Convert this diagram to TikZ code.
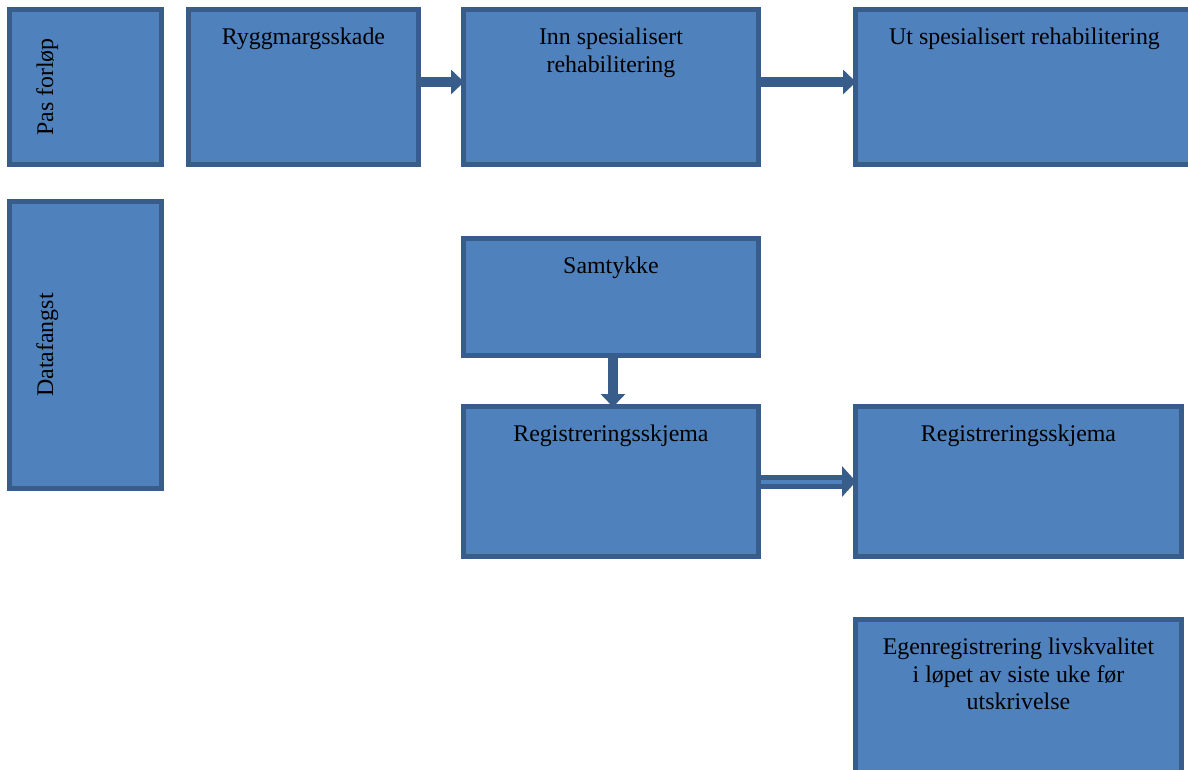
\documentclass[tikz,border=0pt]{standalone}
\usepackage{fontspec}
\setmainfont{Liberation Serif}
\usetikzlibrary{arrows.meta}

\definecolor{boxfill}{HTML}{4F81BD}
\definecolor{boxline}{HTML}{385D8A}

\begin{document}
\begin{tikzpicture}[x=0.02cm,y=-0.02cm,
    box/.style={draw=boxline,fill=boxfill,line width=0.1cm,inner sep=0pt},
    boxtext/.style={anchor=north,inner sep=0pt,align=center,
        font=\fontsize{13.6}{15.5}\selectfont},
    sidetext/.style={anchor=base,inner sep=0pt,rotate=90,
        font=\fontsize{13.6}{15.5}\selectfont},
    flow/.style={draw=boxline,line width=0.2cm,shorten >=-0.06cm,
        -{Triangle[length=0.26cm,width=0.48cm]}}
]
\useasboundingbox (0,0) rectangle (1188,769);
\clip (0,0) rectangle (1188,769);
% Boxes
\node[box,minimum width=3.04cm,minimum height=3.10cm] (pas) at (85.5,87){};
\node[box,minimum width=4.60cm,minimum height=3.10cm] (rygg) at (303.5,87){};
\node[box,minimum width=5.90cm,minimum height=3.10cm] (inn) at (611,87){};
\node[box,minimum width=6.76cm,minimum height=3.10cm] (ut) at (1024.5,87){};
\node[box,minimum width=3.04cm,minimum height=5.74cm] (data) at (85.5,345){};
\node[box,minimum width=5.90cm,minimum height=2.34cm] (samt) at (611,297){};
\node[box,minimum width=5.90cm,minimum height=3.00cm] (regA) at (611,481.5){};
\node[box,minimum width=6.52cm,minimum height=3.00cm] (regB) at (1018.5,481.5){};
\node[box,minimum width=6.52cm,minimum height=3.06cm] (egen) at (1018.5,696){};
% Texts
\node[sidetext] (pastxt) at (53,87){Pas forløp};
\node[sidetext] (datatxt) at (53,345){Datafangst};
\node[boxtext] (ryggtxt) at ([yshift=-0.42cm]rygg.north){Ryggmargsskade};
\node[boxtext] (inntxt) at ([yshift=-0.42cm]inn.north){Inn spesialisert\\rehabilitering};
\node[boxtext] (uttxt) at ([yshift=-0.42cm]ut.north){Ut spesialisert rehabilitering};
\node[boxtext] (samttxt) at ([yshift=-0.42cm]samt.north){Samtykke};
\node[boxtext] (regAtxt) at ([yshift=-0.42cm]regA.north){Registreringsskjema};
\node[boxtext] (regBtxt) at ([yshift=-0.42cm]regB.north){Registreringsskjema};
\node[boxtext] (egentxt) at ([yshift=-0.42cm]egen.north){Egenregistrering livskvalitet\\i løpet av siste uke før\\utskrivelse};
% Arrows
\draw[flow] ([yshift=0.1cm]rygg.east) -- ([yshift=0.1cm]inn.west);
\draw[flow] ([yshift=0.1cm]inn.east) -- ([yshift=0.1cm]ut.west);
\draw[flow] ([xshift=0.04cm]samt.south) -- ([xshift=0.04cm]regA.north);
\draw[draw=boxline,line width=0.1cm,double=boxfill,double distance=0.08cm,
    shorten >=-0.06cm,-{Triangle[length=0.28cm,width=0.6cm]}] (regA.east) -- (regB.west);
\end{tikzpicture}
\end{document}
